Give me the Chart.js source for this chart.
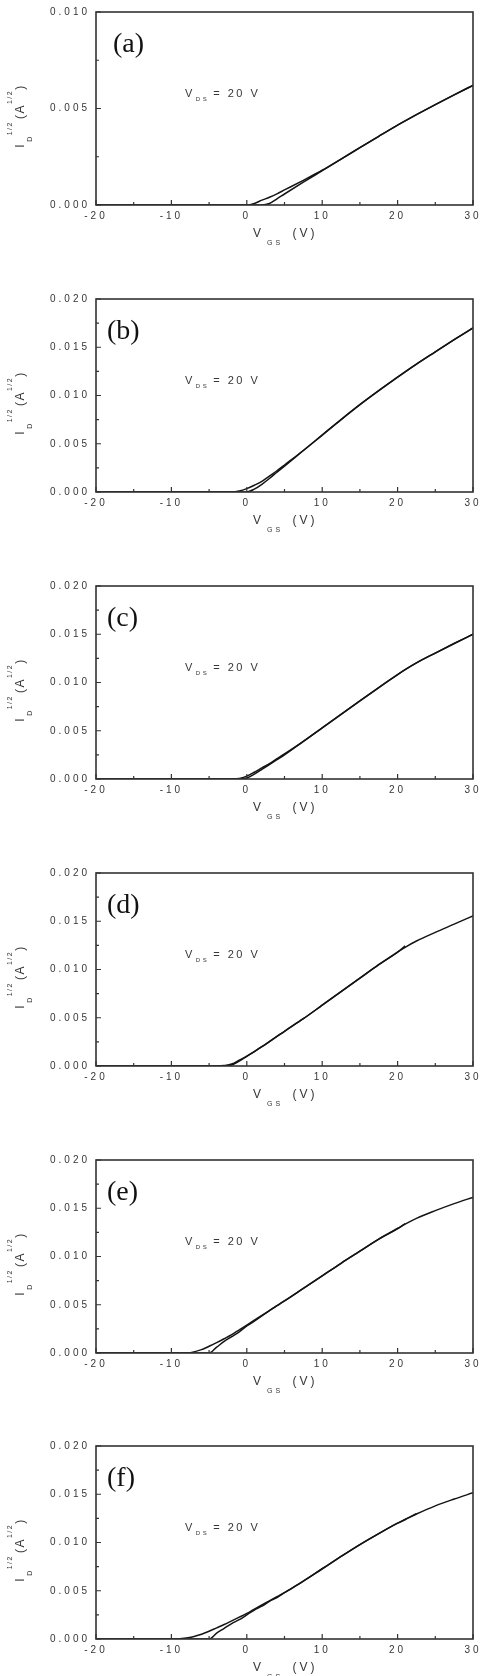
<!DOCTYPE html>
<html>
<head>
<meta charset="utf-8">
<script src="https://cdn.jsdelivr.net/npm/chart.js@4.4.0/dist/chart.umd.min.js"></script>
<style>
  body { margin: 0; background: #fff; width: 490px; height: 1676px; overflow: hidden; position: relative; }
  .panel { position: absolute; left: 0; width: 490px; height: 287px; }
</style>
</head>
<body>
<div class="panel" style="top:0px"><canvas id="c0" width="490" height="287"></canvas></div>
<div class="panel" style="top:287px"><canvas id="c1" width="490" height="287"></canvas></div>
<div class="panel" style="top:574px"><canvas id="c2" width="490" height="287"></canvas></div>
<div class="panel" style="top:861px"><canvas id="c3" width="490" height="287"></canvas></div>
<div class="panel" style="top:1148px"><canvas id="c4" width="490" height="287"></canvas></div>
<div class="panel" style="top:1434px"><canvas id="c5" width="490" height="287"></canvas></div>
<script>
// transfer curves, sqrt(ID) vs VGS at VDS = 20 V, two sweeps per sample
const vgs = [-20, -15, -10, -8, -6, -5, -4, -3, -2, -1, 0, 1, 2, 3, 4, 5, 7.5, 10, 12.5, 15, 17.5, 20, 21, 22.5, 25, 27.5, 30];

const fwdA = [0, 0, 0, 0, 0, 0, 0, 0, 0, 0, 0, 0.00008, 0.00025, 0.0004, 0.00058, 0.00078, 0.00128, 0.0018, 0.00238, 0.00297, 0.00356, 0.00414, 0.00436, 0.00468, 0.0052, 0.00571, 0.0062];
const revA = [0, 0, 0, 0, 0, 0, 0, 0, 0, 0, 0, 0, 0, 0.00008, 0.00032, 0.00057, 0.00118, 0.00178, 0.00238, 0.00297, 0.00356, 0.00414, 0.00436, 0.00468, 0.0052, 0.00571, 0.0062];

const fwdB = [0, 0, 0, 0, 0, 0, 0, 0, 0, 0.0001, 0.00035, 0.0007, 0.0011, 0.00165, 0.0022, 0.0028, 0.0043, 0.0059, 0.0075, 0.00905, 0.0105, 0.0119, 0.01245, 0.01325, 0.01452, 0.01578, 0.017];
const revB = [0, 0, 0, 0, 0, 0, 0, 0, 0, 0, 0, 0.0003, 0.0008, 0.0014, 0.00205, 0.00268, 0.0043, 0.0059, 0.0075, 0.00905, 0.0105, 0.0119, 0.01245, 0.01325, 0.01452, 0.01578, 0.017];

const fwdC = [0, 0, 0, 0, 0, 0, 0, 0, 0, 0.00005, 0.0003, 0.0007, 0.00115, 0.0016, 0.0021, 0.0026, 0.0039, 0.0053, 0.0067, 0.0081, 0.00948, 0.01082, 0.01133, 0.01203, 0.01305, 0.01404, 0.015];
const revC = [0, 0, 0, 0, 0, 0, 0, 0, 0, 0, 0.0001, 0.0005, 0.001, 0.0015, 0.002, 0.0025, 0.0039, 0.0053, 0.0067, 0.0081, 0.00948, 0.01082, 0.01133, 0.01203, 0.01305, 0.01404, 0.015];

const fwdD = [0, 0, 0, 0, 0, 0, 0, 0.00005, 0.0002, 0.0006, 0.00103, 0.0015, 0.002, 0.00253, 0.00306, 0.0036, 0.0049, 0.0063, 0.0077, 0.0091, 0.0105, 0.0118, 0.0123, 0.01295, 0.01385, 0.0147, 0.01556];
const revD = [0, 0, 0, 0, 0, 0, 0, 0, 0.0001, 0.0005, 0.001, 0.0015, 0.002, 0.00253, 0.00306, 0.0036, 0.0049, 0.0063, 0.0077, 0.0091, 0.0105, 0.0118, 0.01245, null, null, null, null];

const fwdE = [0, 0, 0, 0, 0.00035, 0.0007, 0.00108, 0.00148, 0.0019, 0.0024, 0.0029, 0.0034, 0.0039, 0.0044, 0.0049, 0.0054, 0.0067, 0.008, 0.0093, 0.01055, 0.0118, 0.0129, 0.01335, 0.01395, 0.01475, 0.01548, 0.01613];
const revE = [0, 0, 0, 0, 0, 0, 0.0006, 0.0012, 0.0017, 0.0022, 0.0028, 0.0033, 0.00385, 0.0044, 0.0049, 0.0054, 0.0067, 0.008, 0.0093, 0.01055, 0.0118, 0.0129, 0.0134, null, null, null, null];

const fwdF = [0, 0, 0, 0.0001, 0.0005, 0.0008, 0.00115, 0.0015, 0.00188, 0.00226, 0.00265, 0.0031, 0.00352, 0.00395, 0.00438, 0.0048, 0.006, 0.00728, 0.00855, 0.00978, 0.01092, 0.012, 0.01238, 0.01295, 0.0138, 0.0145, 0.01515];
const revF = [0, 0, 0, 0, 0, 0, 0.0006, 0.0011, 0.0016, 0.002, 0.0025, 0.003, 0.0034, 0.0039, 0.0043, 0.0048, 0.006, 0.00728, 0.00855, 0.00978, 0.01092, 0.012, 0.01238, 0.01298, null, null, null];

const panelLabels = ["(a)", "(b)", "(c)", "(d)", "(e)", "(f)"];
const yMax = [0.010, 0.020, 0.020, 0.020, 0.020, 0.020];
const sweeps = [[fwdA, revA], [fwdB, revB], [fwdC, revC], [fwdD, revD], [fwdE, revE], [fwdF, revF]];

const SANS = '"Liberation Sans", Arial, sans-serif';
const TEXT = "#363636";

function isMajorY(v) {
  const k = v / 0.005;
  return Math.abs(k - Math.round(k)) < 1e-6;
}

// draw a list of text pieces one after another, each with its own size and baseline shift
function drawRuns(ctx, x, y, runs, spacing, measureOnly) {
  let cx = x;
  ctx.letterSpacing = spacing + "px";
  runs.forEach(r => {
    ctx.font = r.size + "px " + (r.font || SANS);
    if (!measureOnly) ctx.fillText(r.t, cx, y + (r.dy || 0));
    cx += ctx.measureText(r.t).width + (r.gap || 0);
  });
  return cx - x;
}

const decorations = {
  id: "decorations",
  beforeDraw(chart) {
    chart.ctx.letterSpacing = "3px";
  },
  afterDraw(chart) {
    const ctx = chart.ctx, ca = chart.chartArea;
    const xs = chart.scales.x, ys = chart.scales.y;
    const label = chart.options.plugins.decorations.label;
    ctx.save();

    // frame
    ctx.strokeStyle = "#333";
    ctx.lineWidth = 1.6;
    ctx.strokeRect(ca.left, ca.top, ca.width, ca.height);

    // inward tick marks
    ctx.lineWidth = 1.2;
    ctx.beginPath();
    xs.ticks.forEach(t => {
      const px = xs.getPixelForValue(t.value);
      const len = t.value % 10 === 0 ? 5 : 3;
      ctx.moveTo(px, ca.bottom);
      ctx.lineTo(px, ca.bottom - len);
    });
    ys.ticks.forEach(t => {
      const py = ys.getPixelForValue(t.value);
      const len = isMajorY(t.value) ? 5 : 3;
      ctx.moveTo(ca.left, py);
      ctx.lineTo(ca.left + len, py);
    });
    ctx.stroke();

    ctx.textAlign = "left";
    ctx.textBaseline = "alphabetic";

    // panel letter
    ctx.fillStyle = "#111";
    drawRuns(ctx, label === "(a)" ? ca.left + 17 : ca.left + 11, ca.top + 40,
      [{ t: label, size: 28, font: '"Liberation Serif", "Times New Roman", serif' }], 0);

    // V_DS = 20 V
    ctx.fillStyle = TEXT;
    drawRuns(ctx, 185, ca.top + 85, [
      { t: "V", size: 11, gap: 1 },
      { t: "DS", size: 6, dy: 4, gap: 4 },
      { t: "= 20 V", size: 11 }
    ], 2.5);

    // x title
    drawRuns(ctx, 253, ca.bottom + 32, [
      { t: "V", size: 12, gap: 3 },
      { t: "GS", size: 7, dy: 8, gap: 3 },
      { t: " (V)", size: 12 }
    ], 3);

    // y title, rotated
    const yRuns = [
      { t: "I", size: 12, gap: 1 },
      { t: "D", size: 7, dy: 8 },
      { t: "1/2", size: 7, dy: -12, gap: 2 },
      { t: "(A", size: 12 },
      { t: "1/2", size: 7, dy: -12 },
      { t: ")", size: 12 }
    ];
    ctx.translate(24, ca.top + 104);
    ctx.rotate(-Math.PI / 2);
    const w = drawRuns(ctx, 0, 0, yRuns, 1.5, true);
    drawRuns(ctx, -w / 2, 0, yRuns, 1.5);

    ctx.restore();
  }
};

sweeps.forEach((pair, i) => {
  const datasets = pair.map(arr => ({
    data: vgs.map((v, k) => ({ x: v, y: arr[k] })),
    borderColor: "#141414",
    borderWidth: 1.5,
    pointRadius: 0,
    fill: false,
    spanGaps: false,
    cubicInterpolationMode: "monotone"
  }));

  new Chart("c" + i, {
    type: "line",
    data: { datasets: datasets },
    plugins: [decorations],
    options: {
      responsive: false,
      animation: false,
      layout: { padding: { top: 10, right: 17, left: 0, bottom: 0 } },
      plugins: {
        legend: { display: false },
        tooltip: { enabled: false },
        decorations: { label: panelLabels[i] }
      },
      scales: {
        x: {
          type: "linear",
          min: -20,
          max: 30,
          grid: { display: false, drawTicks: false },
          border: { display: false },
          afterFit: s => { s.height = 82; },
          ticks: {
            stepSize: 5,
            autoSkip: false,
            maxRotation: 0,
            padding: 5,
            color: TEXT,
            font: { family: SANS, size: 10 },
            callback: v => (v % 10 === 0 ? String(v) : "")
          }
        },
        y: {
          min: 0,
          max: yMax[i],
          grid: { display: false, drawTicks: false },
          border: { display: false },
          afterFit: s => { s.width = 96; },
          ticks: {
            stepSize: 0.0025,
            autoSkip: false,
            padding: 6,
            color: TEXT,
            font: { family: SANS, size: 10 },
            callback: v => (isMajorY(v) ? v.toFixed(3) : "")
          }
        }
      }
    }
  });
});
</script>
</body>
</html>
